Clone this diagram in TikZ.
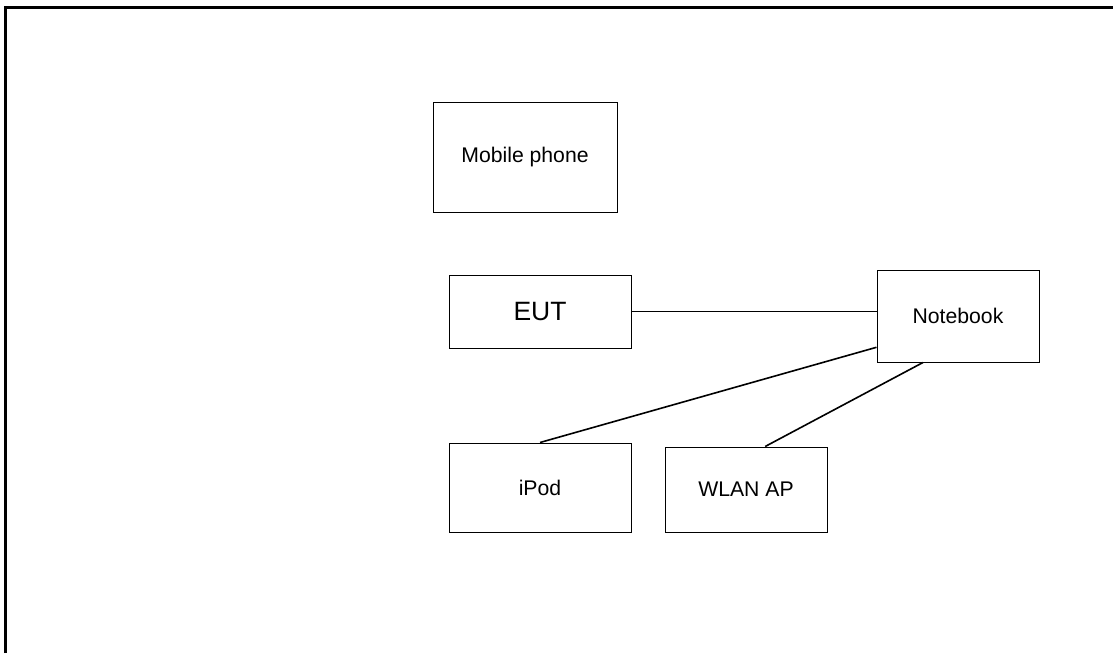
\documentclass[tikz,border=0pt]{standalone}
\usepackage{fontspec}
\setmainfont{Liberation Sans}
\usepackage{tikz}
\usetikzlibrary{positioning}

\begin{document}
\begin{tikzpicture}
            [x=1pt,y=-1pt,every node/.style={draw, line width=1pt, rectangle, fill=white, inner sep = 0pt, font=\fontsize{21.2}{23}\selectfont}]
            \useasboundingbox (0,0) rectangle (1113,653);
            \draw[line width=3pt] (5,653) -- (5,7) -- (1113,7);

            \node[minimum width=184pt, minimum height=110pt] (phone) at (525,157) {Mobile phone};
            \node[minimum width=182pt, minimum height=73pt, font=\fontsize{26.5}{28}\selectfont] (eut) at (540,311.5) {EUT};
            \node[minimum width=162pt, minimum height=92pt] (nb) at (958,316) {Notebook};
            \node[minimum width=182pt, minimum height=89pt] (ipod) at (540,487.5) {iPod};
            \node[minimum width=162pt, minimum height=85pt] (ap) at (746,489.5) {WLAN AP};

            \draw[line width=1.6pt] (eut.east) -- (eut.east -| nb.west);
            \foreach \from/\to in {nb.201/ipod.north, nb.233/ap.66}
            \draw[line width=1.6pt] (\from) -- (\to);
          \end{tikzpicture}
\end{document}
